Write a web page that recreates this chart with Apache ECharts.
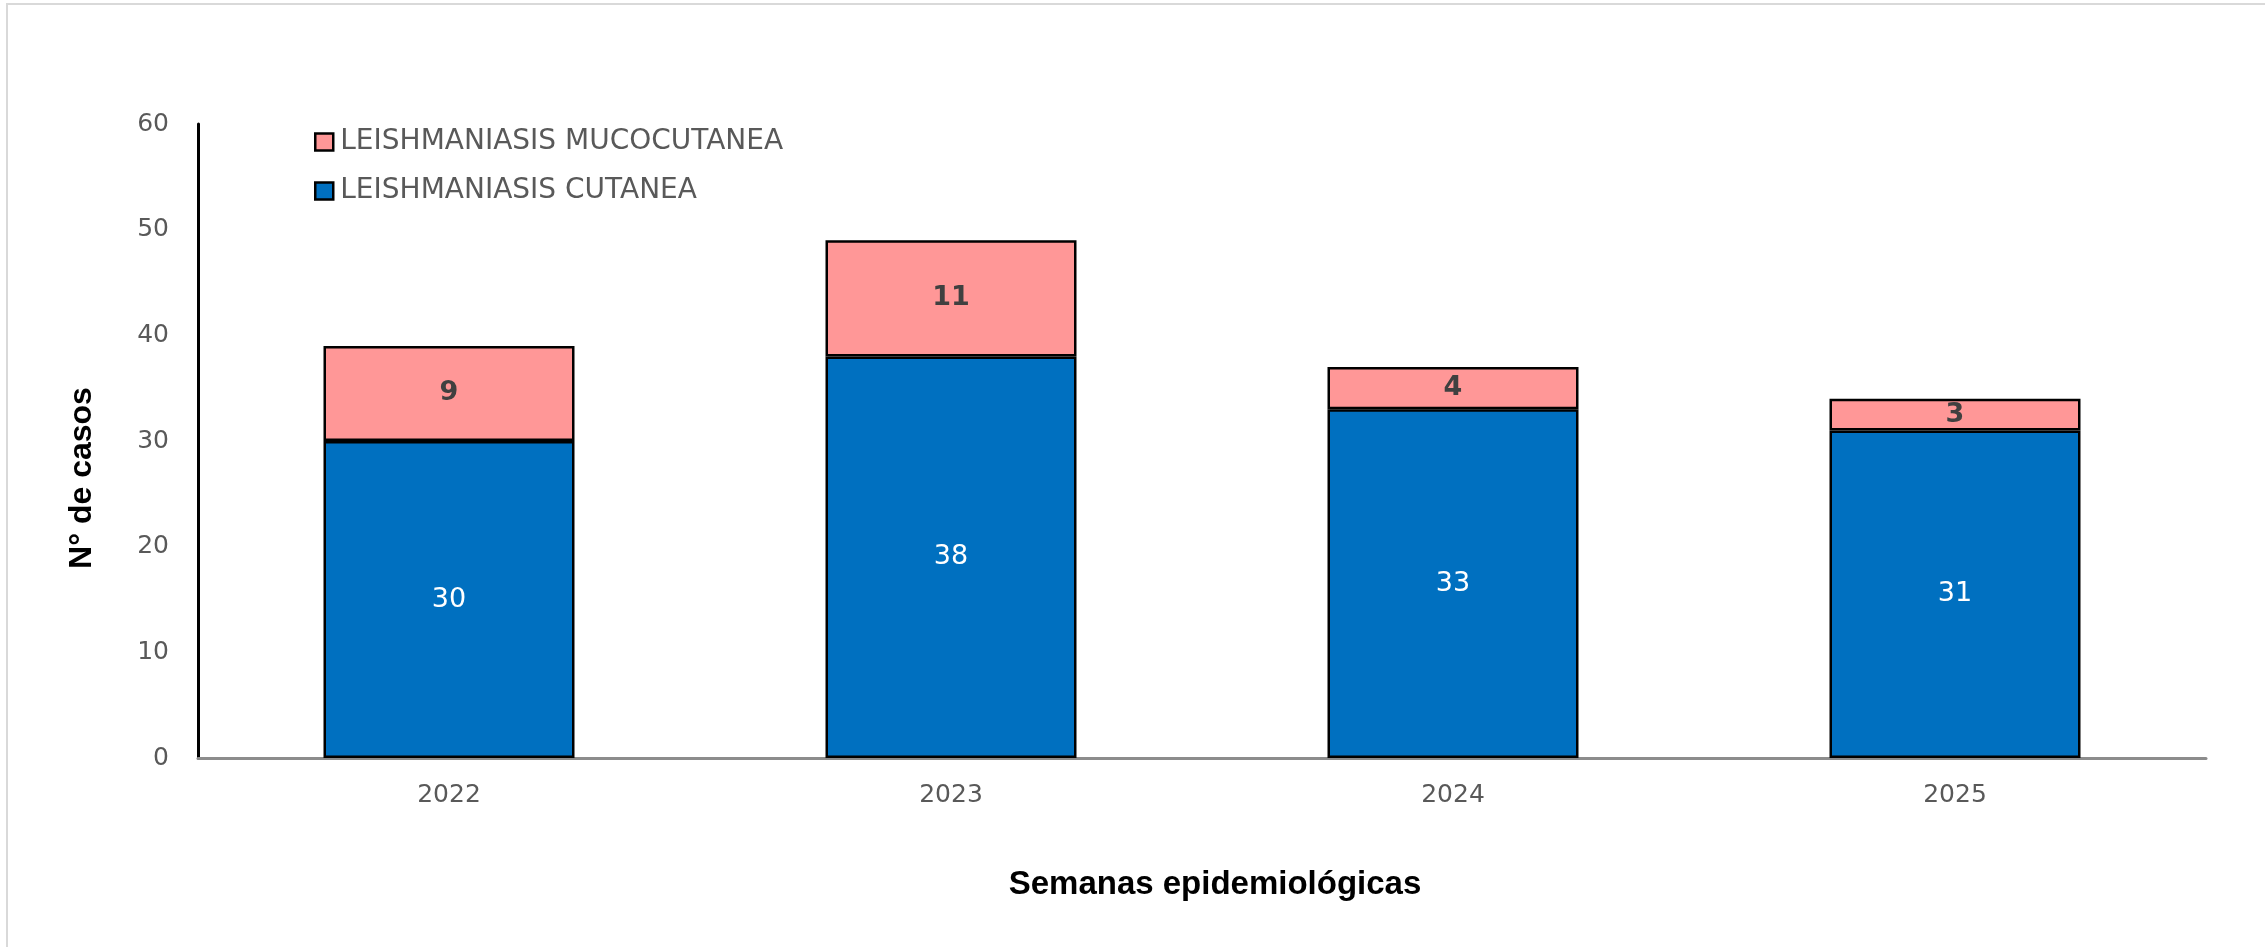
<!DOCTYPE html>
<html>
<head>
<meta charset="utf-8">
<script src="https://cdn.jsdelivr.net/npm/echarts@6/dist/echarts.min.js"></script>
<style>
html,body{margin:0;padding:0;background:#fff;}
#chart{width:2265px;height:947px;}
</style>
</head>
<body>
<div id="chart"></div>
<script>
const categories = ['2022', '2023', '2024', '2025'];
const cutanea = [30, 38, 33, 31];
const mucocutanea = [9, 11, 4, 3];
const seriesNames = ['LEISHMANIASIS CUTANEA', 'LEISHMANIASIS MUCOCUTANEA'];
const yTicks = { min: 0, max: 60, interval: 10 };
const xAxisTitle = 'Semanas epidemiológicas';
const yAxisTitle = 'N° de casos';

const chart = echarts.init(document.getElementById('chart'));
chart.setOption({
  backgroundColor: '#ffffff',
  animation: false,
  grid: { left: 198, right: 59, top: 124, bottom: 189, containLabel: false },
  legend: {
    orient: 'vertical',
    left: 309,
    top: 121,
    data: [seriesNames[1], seriesNames[0]],
    icon: 'rect',
    itemWidth: 18,
    itemHeight: 17,
    itemGap: 17,
    textStyle: { fontFamily: 'DejaVu Sans', fontSize: 28, color: '#595959', lineHeight: 32, padding: [0,0,0,2] },
    itemStyle: { borderColor: '#000', borderWidth: 2.5 }
  },
  xAxis: {
    type: 'category',
    data: categories,
    axisLine: { lineStyle: { color: '#8c8c8c', width: 3 } },
    axisTick: { show: false },
    axisLabel: { fontFamily: 'DejaVu Sans', fontSize: 25, color: '#595959', margin: 25 }
  },
  yAxis: {
    type: 'value',
    min: yTicks.min, max: yTicks.max, interval: yTicks.interval,
    axisLine: { show: true, lineStyle: { color: '#000', width: 3 } },
    axisTick: { show: false },
    splitLine: { show: false },
    axisLabel: { fontFamily: 'DejaVu Sans', fontSize: 25, color: '#595959', margin: 29 }
  },
  graphic: [
    { type: 'rect', shape: { x: 7, y: 4, width: 2300, height: 1000 }, style: { fill: 'none', stroke: '#d9d9d9', lineWidth: 2 }, silent: true, z: -10 },
    { type: 'text', x: 1215, y: 885, style: { text: xAxisTitle, font: 'bold 33px "Liberation Sans", Arial, sans-serif', fill: '#000', textAlign: 'center', textVerticalAlign: 'middle' } },
    { type: 'text', x: 82, y: 478, rotation: Math.PI / 2, style: { text: yAxisTitle, font: 'bold 32px "Liberation Sans", Arial, sans-serif', fill: '#000', textAlign: 'center', textVerticalAlign: 'middle' } }
  ],
  series: [
    {
      name: seriesNames[0], type: 'bar', stack: 'total', data: cutanea, barWidth: '50%',
      itemStyle: { color: '#0070C0', borderColor: '#000', borderWidth: 2.5 },
      label: { show: true, position: 'inside', color: '#ffffff', fontFamily: 'DejaVu Sans', fontSize: 27 }
    },
    {
      name: seriesNames[1], type: 'bar', stack: 'total', data: mucocutanea, barWidth: '50%',
      itemStyle: { color: '#FF9797', borderColor: '#000', borderWidth: 2.5 },
      label: { show: true, position: 'inside', color: '#404040', fontFamily: 'DejaVu Sans', fontWeight: 'bold', fontSize: 27 }
    }
  ]
});
</script>
</body>
</html>
